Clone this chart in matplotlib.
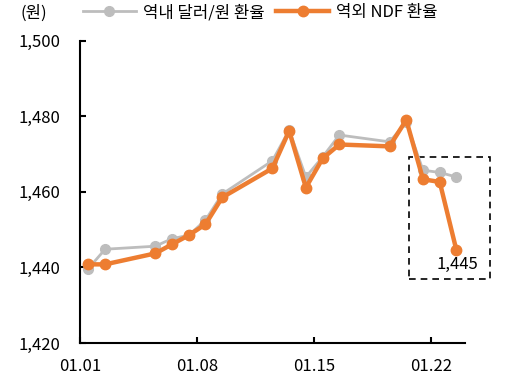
import matplotlib
matplotlib.use('Agg')
import matplotlib.pyplot as plt
from matplotlib.patches import Rectangle

plt.rcParams['font.family'] = ['Noto Sans CJK KR', 'DejaVu Sans']

# ===== 데이터 =====
dates = ['01.01', '01.02', '01.05', '01.06', '01.07', '01.08', '01.09',
         '01.12', '01.13', '01.14', '01.15', '01.16', '01.19', '01.20',
         '01.21', '01.22', '01.23']
onshore = [1439.7, 1444.8, 1445.6, 1447.6, 1448.5, 1452.5, 1459.4,
           1468.2, 1476.3, 1463.9, 1469.2, 1475.0, 1473.2, 1478.4,
           1465.7, 1465.1, 1463.9]
ndf = [1440.8, 1440.8, 1443.7, 1446.1, 1448.5, 1451.4, 1458.5,
       1466.2, 1476.1, 1461.1, 1468.8, 1472.5, 1472.0, 1479.0,
       1463.3, 1462.6, 1444.5]
tick_labels = ['01.01', '01.08', '01.15', '01.22']
yticks = [1420, 1440, 1460, 1480, 1500]
last_label = '1,445'

GRAY = '#BDBDBD'
ORANGE = '#ED7D31'

# 날짜 -> 일(day) 번호, 점은 하루의 가운데
day = lambda s: int(s.split('.')[1])
x = [day(d) for d in dates]
tick_x = [day(t) - 0.5 for t in tick_labels]

fig = plt.figure(figsize=(5.08, 3.75), dpi=100)
ax = fig.add_axes([0.1575, 0.0853, 0.7575, 0.8067])

l1, = ax.plot(x, onshore, color=GRAY, lw=2, marker='o', ms=7, label='역내 달러/원 환율')
l2, = ax.plot(x, ndf, color=ORANGE, lw=3.2, marker='o', ms=7.5, label='역외 NDF 환율')

ax.set_xlim(0.5, 23.5)
ax.set_ylim(1420, 1500)
ax.set_xticks(tick_x)
ax.set_xticklabels(tick_labels)
ax.set_yticks(yticks)
ax.set_yticklabels([f'{v:,}' for v in yticks])
ax.tick_params(direction='in', length=4, width=1.5, labelsize=12, colors='black')
ax.tick_params(axis='y', pad=14)
ax.tick_params(axis='x', pad=11)
for s in ['top', 'right']:
    ax.spines[s].set_visible(False)
for s in ['left', 'bottom']:
    ax.spines[s].set_linewidth(1.5)

# 점선 박스 + 마지막 값 라벨
ax.add_patch(Rectangle((20.17, 1437.0), 4.86, 32.1, fill=False, ls=(0, (4, 3)),
                       lw=1.2, edgecolor='black', clip_on=False))
ax.text(x[-1] + 0.05, ndf[-1] - 1.6, last_label, ha='center', va='top', fontsize=12)

fig.text(0.04, 0.966, '(원)', fontsize=12, va='center')
fig.legend(handles=[l1, l2], loc='center left', bbox_to_anchor=(0.163, 0.966),
           ncol=2, frameon=False, fontsize=12, handlelength=3.2,
           handletextpad=0.4, columnspacing=0.7, borderaxespad=0, borderpad=0)

fig.savefig('out.png', dpi=100)
